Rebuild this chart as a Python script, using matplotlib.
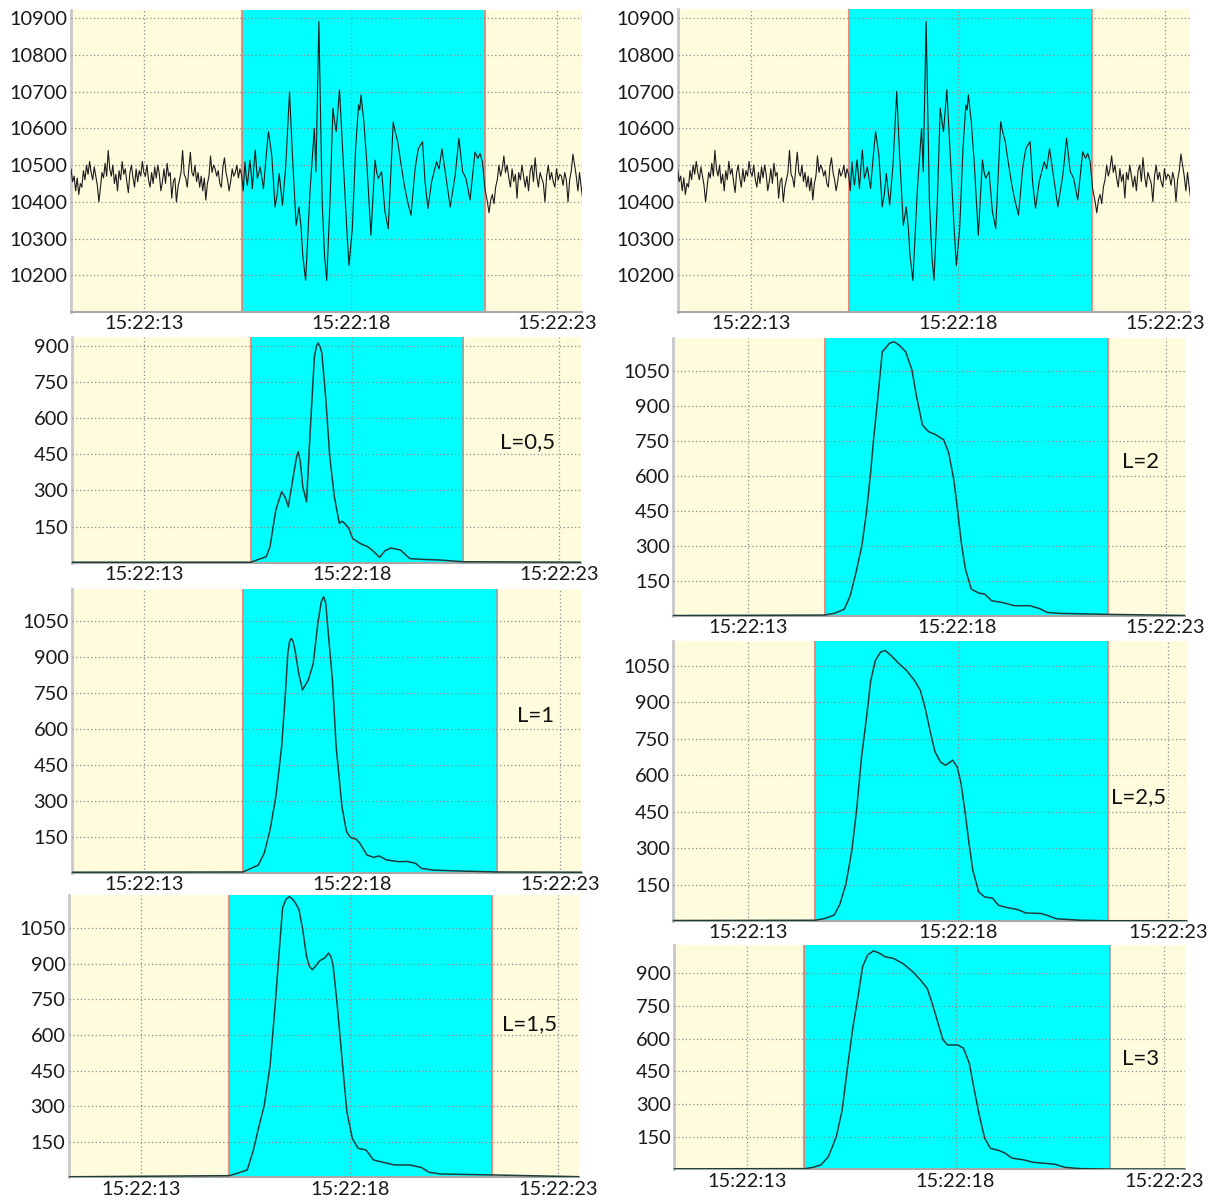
import numpy as np
import matplotlib
matplotlib.use("Agg")
import matplotlib.pyplot as plt

plt.rcParams['font.family'] = ['Lato', 'DejaVu Sans']

# ---------------------------------------------------------------- data
# time axis: seconds after 15:22:00
time_ticks = [13, 18, 23]
time_labels = ["15:22:13", "15:22:18", "15:22:23"]

# raw signal: background noise before the event
noise_before = [10490, 10455, 10470, 10430, 10465, 10420, 10450, 10440, 10485, 10460,
                10500, 10475, 10510, 10480, 10460, 10495, 10470, 10445, 10400, 10440,
                10480, 10465, 10505, 10470, 10540, 10490, 10470, 10500, 10450, 10475,
                10430, 10485, 10460, 10510, 10475, 10490, 10455, 10425, 10480, 10500,
                10465, 10440, 10490, 10455, 10485, 10470, 10510, 10480, 10470, 10500,
                10460, 10440, 10480, 10450, 10495, 10465, 10500, 10475, 10430, 10455,
                10490, 10450, 10505, 10470, 10480, 10410, 10455, 10465, 10400, 10440,
                10460, 10480, 10540, 10475, 10465, 10440, 10490, 10535, 10480, 10470,
                10500, 10455, 10480, 10440, 10470, 10430, 10465, 10405, 10450, 10470,
                10525, 10480, 10500, 10490, 10470, 10485, 10450, 10440, 10495, 10520,
                10480, 10460, 10430, 10455, 10490, 10470, 10480, 10500, 10465, 10490]
noise_before_t = (11.23, 15.32)

# raw signal: the event itself (time, value)
event_t = [15.36, 15.40, 15.44, 15.47, 15.50, 15.56, 15.59, 15.62, 15.66, 15.69,
           15.74, 15.78, 15.81, 15.89, 15.95, 16.01, 16.05, 16.09, 16.17, 16.22,
           16.27, 16.35, 16.43, 16.52, 16.59, 16.68, 16.75, 16.80, 16.84, 16.91,
           16.96, 17.02, 17.07, 17.12, 17.16, 17.23, 17.31, 17.37, 17.42, 17.50,
           17.57, 17.61, 17.65, 17.73, 17.82, 17.91, 17.96, 18.04, 18.12, 18.19,
           18.22, 18.25, 18.32, 18.39, 18.49, 18.59, 18.63, 18.67, 18.75, 18.83,
           18.91, 19.03, 19.08, 19.14, 19.21, 19.30, 19.38, 19.46, 19.56, 19.60,
           19.64, 19.74, 19.80, 19.87, 19.96, 20.08, 20.14, 20.21, 20.29, 20.41,
           20.53, 20.62, 20.71, 20.79, 20.89, 21.01, 21.08, 21.13, 21.19, 21.25,
           21.31]
event_v = [10473, 10430, 10509, 10470, 10445, 10514, 10480, 10436, 10500, 10541,
           10464, 10480, 10495, 10436, 10520, 10591, 10560, 10527, 10386, 10420,
           10477, 10391, 10500, 10700, 10527, 10336, 10386, 10330, 10255, 10186,
           10300, 10436, 10520, 10600, 10482, 10891, 10400, 10250, 10186, 10400,
           10655, 10620, 10591, 10705, 10509, 10318, 10227, 10327, 10545, 10664,
           10650, 10691, 10618, 10509, 10309, 10514, 10480, 10464, 10482, 10373,
           10327, 10618, 10590, 10564, 10509, 10445, 10400, 10364, 10491, 10520,
           10545, 10564, 10455, 10382, 10455, 10509, 10490, 10545, 10482, 10386,
           10473, 10573, 10482, 10464, 10405, 10536, 10518, 10532, 10509, 10436,
           10400]

# raw signal: background noise after the event
noise_after = [10370, 10405, 10420, 10395, 10440, 10460, 10500, 10470, 10490, 10525,
               10480, 10500, 10465, 10440, 10490, 10455, 10475, 10410, 10480, 10460,
               10500, 10470, 10440, 10470, 10430, 10485, 10500, 10455, 10520, 10470,
               10440, 10480, 10465, 10450, 10400, 10470, 10500, 10460, 10480, 10455,
               10440, 10490, 10460, 10475, 10470, 10445, 10480, 10460, 10400, 10460,
               10485, 10530, 10500, 10470, 10430, 10480, 10440, 10405]
noise_after_t = (21.35, 23.62)

# energy envelopes for each L (time, value)
env05_t = [11.2, 15.57, 15.76, 15.94, 16.03, 16.17, 16.31, 16.40, 16.47, 16.59,
           16.67, 16.71, 16.76, 16.82, 16.91, 17.00, 17.10, 17.15, 17.19, 17.24,
           17.28, 17.37, 17.47, 17.58, 17.70, 17.76, 17.82, 17.93, 18.02, 18.20,
           18.39, 18.53, 18.67, 18.80, 18.94, 19.17, 19.40, 19.68, 20.14, 20.67, 23.6]
env05_v = [2, 2, 14, 25, 66, 219, 295, 270, 232, 357,
           440, 461, 420, 315, 253, 551, 855, 900, 912, 895,
           869, 689, 440, 274, 163, 172, 165, 143, 101, 80,
           66, 46, 22, 50, 61, 53, 17, 14, 11, 4, 2]

env10_t = [11.2, 15.37, 15.51, 15.74, 15.88, 16.02, 16.16, 16.30, 16.39, 16.45,
           16.49, 16.53, 16.57, 16.62, 16.71, 16.80, 16.94, 17.06, 17.17, 17.25,
           17.31, 17.36, 17.40, 17.52, 17.61, 17.75, 17.86, 17.95, 18.09, 18.18,
           18.35, 18.51, 18.64, 18.83, 19.11, 19.33, 19.52, 19.66, 19.93, 20.58,
           21.47, 23.6]
env10_v = [2, 3, 14, 32, 81, 178, 317, 526, 749, 920,
           965, 978, 968, 930, 832, 763, 804, 874, 1041, 1130,
           1152, 1125, 1041, 804, 526, 275, 171, 148, 140, 123,
           74, 64, 70, 53, 46, 47, 39, 18, 11, 7,
           3, 2]

env15_t = [11.2, 15.11, 15.31, 15.54, 15.68, 15.81, 15.95, 16.09, 16.21, 16.30,
           16.39, 16.47, 16.55, 16.63, 16.69, 16.78, 16.87, 16.96, 17.03, 17.10,
           17.18, 17.28, 17.40, 17.49, 17.55, 17.60, 17.70, 17.82, 17.93, 18.06,
           18.20, 18.39, 18.57, 18.80, 19.07, 19.44, 19.72, 19.90, 20.18, 21.41, 23.6]
env15_v = [2, 7, 17, 31, 108, 206, 304, 472, 724, 934,
           1137, 1172, 1183, 1172, 1158, 1130, 1046, 934, 890, 875,
           890, 913, 925, 945, 930, 892, 724, 486, 276, 164,
           122, 115, 73, 63, 52, 52, 41, 21, 14, 10, 2]

env20_t = [11.2, 14.84, 15.08, 15.31, 15.45, 15.59, 15.73, 15.84, 15.94, 16.01,
           16.10, 16.22, 16.39, 16.50, 16.62, 16.78, 16.93, 17.04, 17.18, 17.32,
           17.50, 17.69, 17.81, 17.93, 18.02, 18.11, 18.21, 18.35, 18.53, 18.67,
           18.84, 19.09, 19.38, 19.75, 19.98, 20.17, 20.50, 21.62, 23.6]
env20_v = [2, 4, 12, 29, 86, 186, 300, 442, 612, 754,
           911, 1131, 1167, 1174, 1160, 1131, 1053, 939, 818, 790,
           776, 754, 698, 584, 456, 314, 200, 115, 98, 94,
           65, 58, 44, 44, 32, 15, 11, 7, 2]

env25_t = [11.2, 14.59, 14.82, 15.05, 15.19, 15.33, 15.47, 15.59, 15.70, 15.82,
           15.92, 16.03, 16.15, 16.26, 16.40, 16.59, 16.77, 16.96, 17.10, 17.21,
           17.33, 17.45, 17.58, 17.70, 17.87, 17.98, 18.07, 18.17, 18.26, 18.35,
           18.49, 18.63, 18.82, 18.96, 19.15, 19.42, 19.61, 19.98, 20.17, 20.35,
           20.91, 21.56, 23.6]
env25_v = [2, 3, 10, 24, 72, 154, 291, 470, 675, 840,
           991, 1073, 1107, 1114, 1094, 1060, 1032, 991, 950, 881,
           785, 696, 655, 641, 662, 634, 566, 442, 319, 209,
           120, 99, 94, 65, 56, 47, 33, 31, 20, 9,
           3, 1, 1]

env30_t = [11.2, 14.39, 14.58, 14.77, 14.95, 15.14, 15.28, 15.42, 15.54, 15.66,
           15.77, 15.89, 16.03, 16.17, 16.31, 16.50, 16.73, 16.97, 17.16, 17.32,
           17.44, 17.58, 17.70, 17.81, 18.05, 18.19, 18.33, 18.45, 18.56, 18.70,
           18.84, 19.03, 19.17, 19.36, 19.64, 19.87, 20.39, 20.62, 21.00, 21.70, 23.6]
env30_v = [2, 3, 9, 20, 58, 150, 272, 487, 655, 793,
           931, 984, 1003, 993, 976, 969, 946, 908, 869, 831,
           762, 671, 594, 571, 571, 556, 487, 364, 257, 142,
           96, 87, 76, 51, 43, 32, 23, 9, 3, 1, 1]

ticks_signal = [10200, 10300, 10400, 10500, 10600, 10700, 10800, 10900]
ticks_900 = [150, 300, 450, 600, 750, 900]
ticks_1050 = [150, 300, 450, 600, 750, 900, 1050]

# ---------------------------------------------------------------- layout
W, H = 1211, 1202
fig = plt.figure(figsize=(W / 100, H / 100), dpi=100)
fig.patch.set_facecolor('white')

BEIGE = '#FEFCDD'
CYAN = '#00FFFF'
EDGE_RED = '#F07A70'
EDGE_GREY = '#8FA0A0'
GRID = '#8c8c8c'
FS_TICK = 14.4
FS_LABEL = 16


def panel(box, xlim, ylim, yticks, span, right_edge):
    l, t, r, b = box
    ax = fig.add_axes([l / W, 1 - b / H, (r - l) / W, (b - t) / H])
    ax.set_facecolor(BEIGE)
    ax.set_xlim(*xlim)
    ax.set_ylim(*ylim)
    ax.axvspan(span[0], span[1], color=CYAN, zorder=1, lw=0)
    ax.axvline(span[0], color=EDGE_RED, lw=1.2, zorder=1.5)
    ax.axvline(span[1], color=right_edge, lw=1.2, zorder=1.5)
    ax.set_axisbelow(False)
    ax.grid(True, color=GRID, linestyle=(0, (1, 2)), linewidth=0.9, zorder=2)
    ax.set_xticks(time_ticks)
    ax.set_xticklabels(time_labels)
    ax.set_yticks(yticks)
    ax.set_yticklabels([str(v) for v in yticks])
    ax.tick_params(length=0, labelsize=FS_TICK, colors='#1a1a1a')
    ax.tick_params(axis='x', pad=2.5)
    ax.tick_params(axis='y', pad=2.5)
    for s in ('top', 'right'):
        ax.spines[s].set_visible(False)
    ax.spines['left'].set_color('#c8c8c8')
    ax.spines['left'].set_linewidth(2)
    ax.spines['bottom'].set_color('#a8a8a8')
    ax.spines['bottom'].set_linewidth(1.5)
    return ax


def draw_signal(ax):
    tb = np.linspace(noise_before_t[0], noise_before_t[1], len(noise_before))
    ta = np.linspace(noise_after_t[0], noise_after_t[1], len(noise_after))
    t = np.concatenate([tb, event_t, ta])
    v = np.concatenate([noise_before, event_v, noise_after])
    ax.plot(t, v, color='#1c1c1c', lw=0.8, zorder=3)


def draw_envelope(ax, t, v, label, lx, ly):
    ax.plot(t, v, color='#1e3c3c', lw=1.1, zorder=3, solid_joinstyle='round')
    ax.text(lx, ly, label, transform=ax.transAxes, ha='center', va='baseline',
            fontsize=FS_LABEL, color='#111111', zorder=4)


# left column
ax1 = panel((71, 9.5, 582, 312), (11.23, 23.60), (10100, 10924), ticks_signal,
            (15.37, 21.24), EDGE_RED)
draw_signal(ax1)

ax2 = panel((72, 337, 580.5, 562.7), (11.26, 23.51), (0, 937), ticks_900,
            (15.57, 20.67), EDGE_GREY)
draw_envelope(ax2, env05_t, env05_v, "L=0,5", 0.895, 0.508)

ax3 = panel((72, 589.3, 581.6, 872.7), (11.26, 23.51), (0, 1183), ticks_1050,
            (15.37, 21.47), EDGE_GREY)
draw_envelope(ax3, env10_t, env10_v, "L=1", 0.91, 0.532)

ax4 = panel((69, 895, 579.3, 1177.3), (11.27, 23.50), (0, 1190), ticks_1050,
            (15.10, 21.41), EDGE_RED)
draw_envelope(ax4, env15_t, env15_v, "L=1,5", 0.903, 0.522)

# right column
ax5 = panel((678, 9.3, 1190, 312), (11.24, 23.60), (10100, 10924), ticks_signal,
            (15.37, 21.24), EDGE_RED)
draw_signal(ax5)

ax6 = panel((673.4, 338, 1184.8, 616), (11.22, 23.46), (0, 1190), ticks_1050,
            (14.84, 21.62), EDGE_RED)
draw_envelope(ax6, env20_t, env20_v, "L=2", 0.914, 0.532)

ax7 = panel((673.4, 641, 1187, 921), (11.22, 23.45), (0, 1153), ticks_1050,
            (14.59, 21.56), EDGE_RED)
draw_envelope(ax7, env25_t, env25_v, "L=2,5", 0.905, 0.421)

ax8 = panel((674.2, 945, 1184.8, 1169.3), (11.25, 23.50), (0, 1030), ticks_900,
            (14.37, 21.70), EDGE_GREY)
draw_envelope(ax8, env30_t, env30_v, "L=3", 0.914, 0.465)

fig.savefig("out.png", dpi=100, facecolor='white')
